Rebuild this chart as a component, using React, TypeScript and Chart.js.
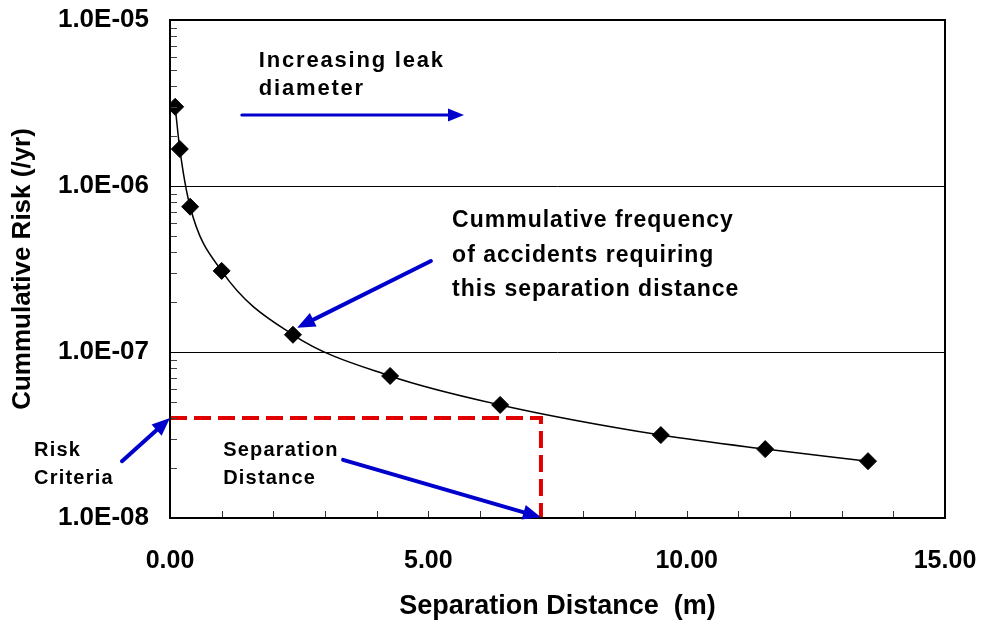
import React, { useEffect, useRef } from 'react';
import { Chart, registerables } from 'chart.js';

Chart.register(...registerables);

// ---- data ----
const distances = [0.1, 0.19, 0.39, 1.0, 2.38, 4.26, 6.39, 9.5, 11.52, 13.51];
const risks = [3.0e-6, 1.67e-6, 7.5e-7, 3.08e-7, 1.27e-7, 7.17e-8, 4.8e-8, 3.16e-8, 2.6e-8, 2.2e-8];
const criteriaRisk = 4.0e-8;
const criteriaDistance = 7.18;
const xTickValues = [0, 5, 10, 15];
const xTickLabels = ['0.00', '5.00', '10.00', '15.00'];
const yTickValues = [1e-8, 1e-7, 1e-6, 1e-5];
const yTickLabels = ['1.0E-08', '1.0E-07', '1.0E-06', '1.0E-05'];
const xTitle = 'Separation Distance  (m)';
const yTitle = 'Cummulative Risk (/yr)';

// annotations (data coordinates)
const arrowTails = [[1.39, 2.68e-6], [5.05, 3.53e-7], [-0.93, 2.2e-8], [3.35, 2.24e-8]];
const arrowHeads = [[5.69, 2.68e-6], [2.46, 1.4e-7], [0.0, 4.0e-8], [7.18, 1.01e-8]];
const noteLines = [
  ['Increasing leak', 'diameter'],
  ['Cummulative frequency', 'of accidents requiring', 'this separation distance'],
  ['Risk', 'Criteria'],
  ['Separation', 'Distance'],
];
const noteAnchors = [[1.72, 5.21e-6], [5.46, 5.66e-7], [-2.63, 2.36e-8], [1.03, 2.36e-8]];

const FONT = '"Liberation Sans", Arial, sans-serif';
const BLUE = '#0000CC';

const overlayPlugin = {
  id: 'overlay',
  beforeDraw(chart: any) {
    chart.ctx.letterSpacing = '0px';
  },
  afterDraw(chart: any) {
    const ctx = chart.ctx;
    const xs = chart.scales.x;
    const ys = chart.scales.y;
    const { left, right, top, bottom } = chart.chartArea;
    ctx.save();
    // minor ticks y
    ctx.strokeStyle = '#444';
    ctx.lineWidth = 1;
    for (let d = -8; d < -5; d++) {
      for (let m = 2; m <= 9; m++) {
        const py = Math.round(ys.getPixelForValue(m * Math.pow(10, d))) + 0.5;
        ctx.beginPath();
        ctx.moveTo(left, py);
        ctx.lineTo(left + 7, py);
        ctx.stroke();
      }
    }
    // x ticks
    ctx.strokeStyle = '#333';
    for (let i = 1; i < 15; i++) {
      const px = Math.round(xs.getPixelForValue(i)) + 0.5;
      ctx.beginPath();
      ctx.moveTo(px, bottom);
      ctx.lineTo(px, bottom - 7);
      ctx.stroke();
    }
    // frame
    ctx.strokeStyle = '#000';
    ctx.lineWidth = 2;
    ctx.strokeRect(left, top, right - left, bottom - top);

    // arrows
    ctx.fillStyle = BLUE;
    ctx.strokeStyle = BLUE;
    arrowTails.forEach((t, i) => {
      const h = arrowHeads[i];
      const x1 = xs.getPixelForValue(t[0]);
      const y1 = ys.getPixelForValue(t[1]);
      const x2 = xs.getPixelForValue(h[0]);
      const y2 = ys.getPixelForValue(h[1]);
      const ang = Math.atan2(y2 - y1, x2 - x1);
      const hl = i === 0 ? 16 : 18;
      const hw = i === 0 ? 6.5 : 7.5;
      const bx = x2 - Math.cos(ang) * hl;
      const by = y2 - Math.sin(ang) * hl;
      ctx.lineWidth = i === 0 ? 3 : 4;
      ctx.lineCap = 'round';
      ctx.beginPath();
      ctx.moveTo(x1, y1);
      ctx.lineTo(bx + Math.cos(ang) * 2, by + Math.sin(ang) * 2);
      ctx.stroke();
      ctx.beginPath();
      ctx.moveTo(x2, y2);
      ctx.lineTo(bx + Math.sin(ang) * hw, by - Math.cos(ang) * hw);
      ctx.lineTo(bx - Math.sin(ang) * hw, by + Math.cos(ang) * hw);
      ctx.closePath();
      ctx.fill();
    });

    // notes
    const sizes = [22, 23, 20, 20];
    const spacings = ['1.8px', '1px', '1.2px', '1.2px'];
    const gaps = [28, 34.5, 28, 28];
    ctx.fillStyle = '#000';
    ctx.textAlign = 'left';
    ctx.textBaseline = 'alphabetic';
    noteLines.forEach((lines, i) => {
      ctx.font = `bold ${sizes[i]}px ${FONT}`;
      ctx.letterSpacing = spacings[i];
      const px = xs.getPixelForValue(noteAnchors[i][0]);
      const py = ys.getPixelForValue(noteAnchors[i][1]);
      lines.forEach((ln, j) => ctx.fillText(ln, px, py + j * gaps[i]));
    });
    ctx.letterSpacing = '0px';
    ctx.restore();
  },
};

export default function App() {
  const ref = useRef<HTMLCanvasElement>(null);
  useEffect(() => {
    if (!ref.current) return;
    const chart = new Chart(ref.current, {
      type: 'scatter',
      data: {
        datasets: [
          {
            data: distances.map((x, i) => ({ x, y: risks[i] })),
            showLine: true,
            borderColor: '#000',
            borderWidth: 1.5,
            cubicInterpolationMode: 'monotone',
            pointStyle: 'rectRot',
            pointRadius: 8.5,
            pointBackgroundColor: '#000',
            pointBorderColor: '#000',
            pointBorderWidth: 1,
            order: 1,
          },
          {
            data: [
              { x: 0, y: criteriaRisk },
              { x: criteriaDistance, y: criteriaRisk },
              { x: criteriaDistance, y: yTickValues[0] },
            ],
            showLine: true,
            borderColor: '#E00000',
            borderWidth: 4,
            borderDash: [17, 7],
            pointRadius: 0,
            tension: 0,
            order: 2,
          },
        ],
      },
      options: {
        responsive: false,
        animation: false,
        events: [],
        layout: { padding: { top: 20, right: 37, left: 0, bottom: 0 } },
        plugins: { legend: { display: false }, tooltip: { enabled: false } },
        scales: {
          x: {
            type: 'linear',
            min: 0,
            max: 15,
            afterBuildTicks: (s: any) => {
              s.ticks = xTickValues.map((v) => ({ value: v }));
            },
            afterFit: (s: any) => {
              s.height = 106;
            },
            border: { display: false },
            grid: {
              display: true,
              drawOnChartArea: false,
              drawTicks: true,
              tickLength: 28,
              color: 'rgba(0,0,0,0)',
              tickColor: 'rgba(0,0,0,0)',
            },
            ticks: {
              autoSkip: false,
              maxRotation: 0,
              padding: 0,
              color: '#000',
              font: { family: FONT, size: 25, weight: 'bold' },
              callback: (v: any) => xTickLabels[xTickValues.indexOf(Number(v))] ?? '',
            },
            title: {
              display: true,
              text: xTitle,
              color: '#000',
              font: { family: FONT, size: 27, weight: 'bold' },
              padding: { top: 0, bottom: 1 },
            },
          },
          y: {
            type: 'logarithmic',
            min: 1e-8,
            max: 1e-5,
            afterBuildTicks: (s: any) => {
              s.ticks = yTickValues.map((v) => ({ value: v, major: true }));
            },
            afterFit: (s: any) => {
              s.width = 170;
            },
            border: { display: false },
            grid: {
              color: '#000',
              lineWidth: 1,
              drawTicks: true,
              tickLength: 21,
              tickColor: 'rgba(0,0,0,0)',
            },
            ticks: {
              autoSkip: false,
              padding: 0,
              color: '#000',
              font: { family: FONT, size: 26, weight: 'bold' },
              callback: (v: any) => {
                const idx = yTickValues.findIndex((t) => Math.abs(Math.log10(t) - Math.log10(Number(v))) < 1e-6);
                return idx >= 0 ? yTickLabels[idx] : '';
              },
            },
            title: {
              display: true,
              text: yTitle,
              color: '#000',
              font: { family: FONT, size: 26, weight: 'bold' },
              padding: { top: 7, bottom: 0 },
            },
          },
        },
      } as any,
      plugins: [overlayPlugin],
    });
    return () => chart.destroy();
  }, []);
  return (
    <div style={{ position: 'absolute', left: 0, top: 0, width: 982, height: 624, background: '#fff' }}>
      <canvas ref={ref} width={982} height={624} style={{ display: 'block' }} />
    </div>
  );
}
